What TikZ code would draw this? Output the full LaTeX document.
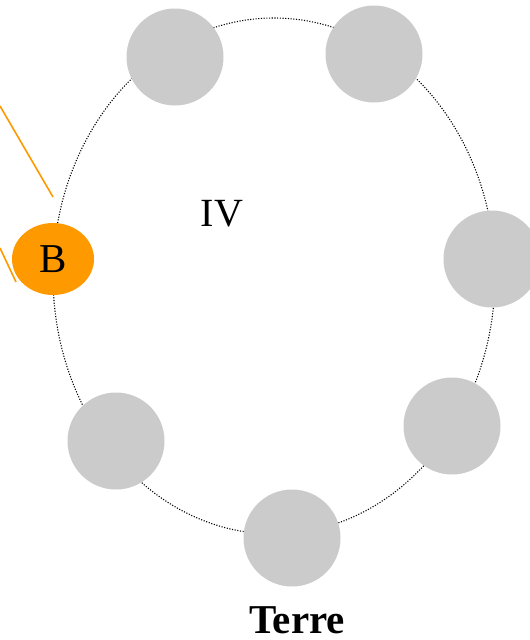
\documentclass[tikz,border=0pt]{standalone}
\usepackage{fontspec}
\setmainfont{Liberation Serif}
\usetikzlibrary{shapes.geometric}
\definecolor{moon}{HTML}{CBCBCB}
\definecolor{sunorange}{HTML}{FF9900}
\begin{document}
\begin{tikzpicture}[x=1pt,y=-1pt,
  moonnode/.style={circle,fill=moon,draw=none,minimum size=97pt,inner sep=0pt},
  bnode/.style={ellipse,fill=sunorange,draw=none,minimum width=82pt,minimum height=72pt,inner sep=0pt,font=\fontsize{41}{41}\selectfont},
  orbit/.style={draw=black,line width=1.1pt,dash pattern=on 1.1pt off 1.6pt},
  ray/.style={draw=sunorange,line width=1.6pt}]
\useasboundingbox (0,0) rectangle (530,640);
\node[minimum width=442pt,minimum height=516pt,inner sep=0pt,ellipse,orbit] (orb) at (274,276) {};
\node[moonnode] (m1) at (175,57) {};
\node[moonnode] (m2) at (374,54) {};
\node[moonnode] (m3) at (492,259) {};
\node[moonnode] (m4) at (452,426) {};
\node[moonnode] (m5) at (292,538) {};
\node[moonnode] (m6) at (116,441) {};
\node[bnode] (b) at (53,259) {B};
\node[font=\fontsize{40}{40}\selectfont] (iv) at (222,214) {IV};
\node[font=\fontsize{41}{41}\selectfont\bfseries,inner sep=0pt,anchor=base] (terre) at (297,633) {Terre};
\coordinate (r1a) at (0,106);
\coordinate (r1b) at (53,197);
\coordinate (r2a) at (0,248);
\coordinate (r2b) at (16,282);
\draw[ray] (r1a) -- (r1b);
\draw[ray] (r2a) -- (r2b);
\end{tikzpicture}
\end{document}
